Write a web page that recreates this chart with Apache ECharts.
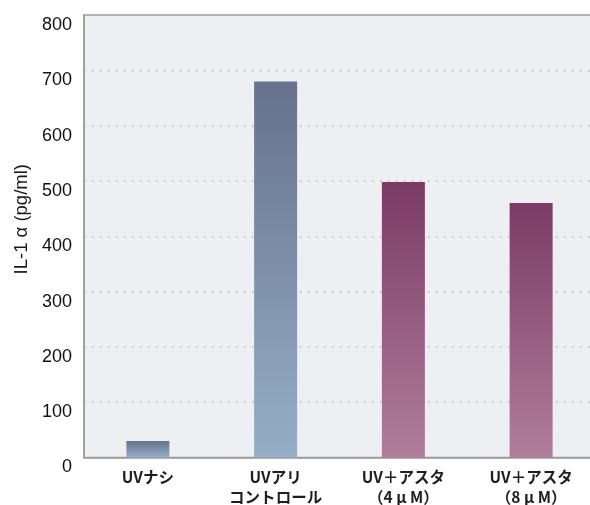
<!DOCTYPE html>
<html>
<head>
<meta charset="utf-8">
<script src="https://cdn.jsdelivr.net/npm/echarts@6/dist/echarts.min.js"></script>
<style>
  html, body { margin: 0; padding: 0; background: #ffffff; }
  #chart { width: 590px; height: 505px; }
</style>
</head>
<body>
<div id="chart"></div>
<script>
// IL-1α release after UV exposure, with and without astaxanthin
const categories = ['UVナシ', 'UVアリ\nコントロール', 'UV＋アスタ\n（4 μ M）', 'UV＋アスタ\n（8 μ M）'];
const values = [30, 680, 498, 460];
const yTicks = [0, 100, 200, 300, 400, 500, 600, 700, 800];
const yName = 'IL-1 α (pg/ml)';

// control group in slate blue, astaxanthin groups in plum
const blueGrad = new echarts.graphic.LinearGradient(0, 0, 0, 1, [
  { offset: 0, color: '#67718b' },
  { offset: 1, color: '#95afc7' }
]);
const plumGrad = new echarts.graphic.LinearGradient(0, 0, 0, 1, [
  { offset: 0, color: '#7b3b64' },
  { offset: 1, color: '#b07e9c' }
]);
const barColors = [blueGrad, blueGrad, plumGrad, plumGrad];

const chart = echarts.init(document.getElementById('chart'), null, { renderer: 'canvas' });
chart.setOption({
  animation: false,
  backgroundColor: '#ffffff',
  grid: {
    left: 84, right: -5, top: 15, bottom: 47.5,
    outerBoundsMode: 'none',
    containLabel: false,
    show: true,
    backgroundColor: '#eeeff2',
    borderColor: '#9c9c9c',
    borderWidth: 1.5
  },
  xAxis: {
    type: 'category',
    data: categories,
    axisLine: { show: true, lineStyle: { color: '#9c9c9c', width: 1.5 } },
    axisTick: { show: false },
    axisLabel: {
      color: '#1e1e1e',
      fontFamily: '"Noto Sans CJK JP", sans-serif',
      fontSize: 15.5,
      fontWeight: 'bold',
      lineHeight: 20,
      margin: 10
    },
    splitLine: { show: false }
  },
  yAxis: {
    type: 'value',
    min: yTicks[0],
    max: yTicks[yTicks.length - 1],
    interval: yTicks[1] - yTicks[0],
    name: yName,
    nameLocation: 'middle',
    nameGap: 52,
    nameTextStyle: {
      color: '#1a1a1a',
      fontFamily: '"Liberation Sans", "Noto Sans CJK JP", sans-serif',
      fontSize: 18.5,
      padding: [0, 0, 0, 34]
    },
    axisLine: { show: true, lineStyle: { color: '#9c9c9c', width: 1.5 } },
    axisTick: { show: false },
    axisLabel: {
      color: '#111111',
      fontFamily: '"Liberation Sans", sans-serif',
      fontSize: 18,
      margin: 12,
      verticalAlign: 'top',
      padding: [1, 0, 0, 0]
    },
    splitLine: {
      show: true,
      showMinLine: false,
      showMaxLine: false,
      lineStyle: { color: '#b4b4b4', width: 1.5, type: [1.5, 6.5] }
    }
  },
  series: [{
    type: 'bar',
    barWidth: 43,
    data: values.map((v, i) => ({ value: v, itemStyle: { color: barColors[i] } })),
    z: 3
  }]
});
</script>
</body>
</html>
